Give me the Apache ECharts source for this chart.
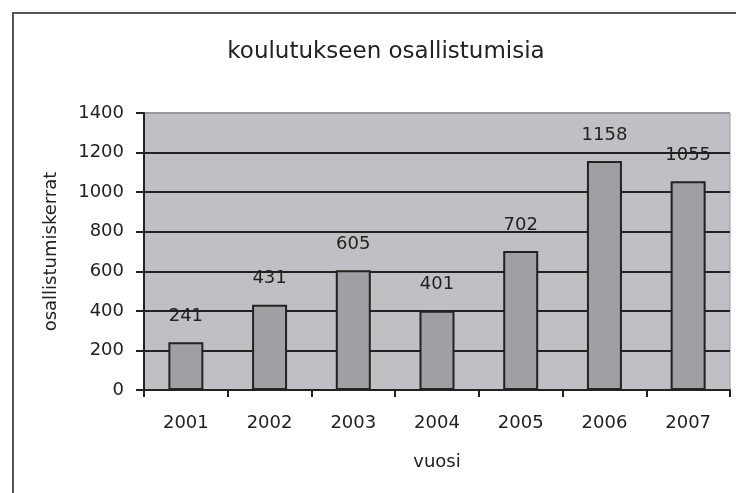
<!DOCTYPE html>
<html>
<head>
<meta charset="utf-8">
<script src="https://cdn.jsdelivr.net/npm/echarts@6/dist/echarts.min.js"></script>
<style>
  html, body { margin: 0; padding: 0; background: #fff; }
  #chart { width: 736px; height: 493px; }
</style>
</head>
<body>
<div id="chart"></div>
<script>
// data
const years = ['2001', '2002', '2003', '2004', '2005', '2006', '2007'];
const osallistumiset = [241, 431, 605, 401, 702, 1158, 1055];

const chart = echarts.init(document.getElementById('chart'));
const font = 'DejaVu Sans, Verdana, sans-serif';

const option = {
  animation: false,
  textStyle: { fontFamily: font },
  title: {
    text: 'koulutukseen osallistumisia',
    left: 381,
    textAlign: 'center',
    top: 36,
    textStyle: { fontSize: 23, fontWeight: 'normal', color: '#222', fontFamily: font }
  },
  // ulkokehys: vain vasen ja ylälaita näkyy
  graphic: [
    {
      type: 'polyline',
      shape: { points: [[13, 493], [13, 13], [736, 13]] },
      style: { stroke: '#555', lineWidth: 2, fill: null }
    }
  ],
  grid: {
    left: 144, right: 6, top: 113, bottom: 103,
    show: true,
    backgroundColor: '#c0c0c4',
    borderColor: '#9a9a9e',
    borderWidth: 1
  },
  xAxis: {
    type: 'category',
    data: years,
    name: 'vuosi',
    nameLocation: 'middle',
    nameGap: 63,
    nameTextStyle: { fontSize: 18, color: '#222' },
    axisLine: { lineStyle: { color: '#222', width: 2 } },
    axisTick: { show: true, length: 7, lineStyle: { color: '#222', width: 2 } },
    axisLabel: { fontSize: 18, color: '#222', margin: 24 }
  },
  yAxis: {
    type: 'value',
    min: 0,
    max: 1400,
    interval: 200,
    name: 'osallistumiskerrat',
    nameLocation: 'middle',
    nameGap: 84,
    nameRotate: 90,
    nameTextStyle: { fontSize: 18, color: '#222' },
    axisLine: { show: true, lineStyle: { color: '#222', width: 2 } },
    axisTick: { show: true, length: 8, lineStyle: { color: '#222', width: 2 } },
    axisLabel: { fontSize: 18, color: '#222', margin: 20, formatter: v => String(v) },
    splitLine: {
      show: true,
      lineStyle: {
        color: ['#222', '#222', '#222', '#222', '#222', '#222', '#222', '#9a9a9e'],
        width: 2
      }
    }
  },
  series: [
    {
      type: 'bar',
      data: osallistumiset,
      barWidth: 35,
      itemStyle: { color: '#a0a0a4', borderColor: '#222', borderWidth: 2 },
      label: {
        show: true,
        position: 'top',
        distance: 17,
        fontSize: 18,
        color: '#222'
      }
    }
  ]
};

chart.setOption(option);
</script>
</body>
</html>
